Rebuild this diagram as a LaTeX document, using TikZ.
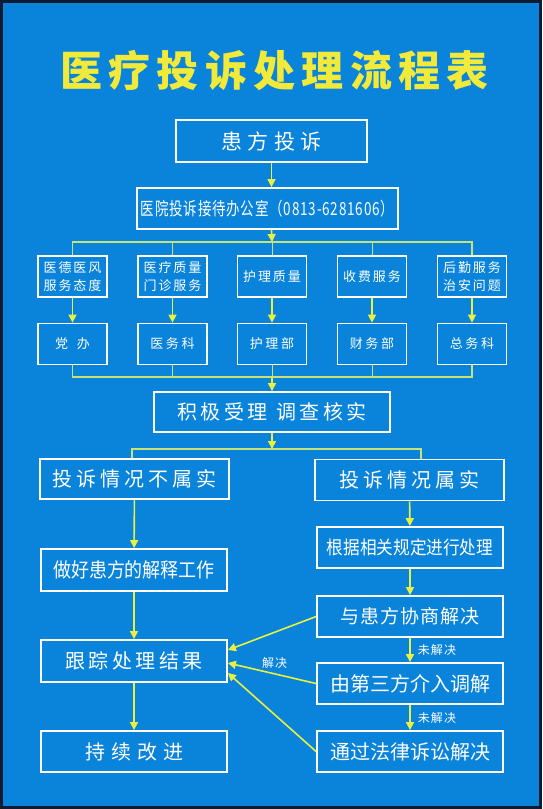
\documentclass[tikz,border=0pt]{standalone}
\usepackage{fontspec}
\setmainfont{Noto Sans CJK SC}
\newfontfamily\narrowfont{Noto Sans CJK SC}[FakeStretch=0.75]
\newfontfamily\condfont{Noto Sans CJK SC}[FakeStretch=0.9]
\usetikzlibrary{arrows.meta}
\definecolor{bgblue}{HTML}{0A83DA}
\definecolor{framedark}{HTML}{0E1B33}
\definecolor{titleyellow}{HTML}{F2EA3A}
\definecolor{arrowyellow}{HTML}{E8F040}
\definecolor{linkgreen}{HTML}{C6E37A}
\newcommand{\spaced}[2]{{\addfontfeature{LetterSpace=#1}#2}}
\tikzset{
  box/.style={draw=white, line width=1.8pt, text=white, inner sep=0pt, align=center},
  bigbox/.style={box, minimum width=186pt, minimum height=41pt, font=\fontsize{20}{24}\selectfont},
  smallbox/.style={box, minimum width=69pt, minimum height=41pt, font=\fontsize{13}{18}\selectfont},
  arr/.style={draw=arrowyellow, line width=1.6pt, -{Triangle[length=8pt,width=8pt]}},
  link/.style={draw=linkgreen, line width=1.5pt},
  stub/.style={draw=linkgreen, line width=0.8pt},
  note/.style={text=white, font=\fontsize{12}{14}\selectfont, inner sep=2pt}
}
\begin{document}
\begin{tikzpicture}[x=1pt,y=-1pt]
  \useasboundingbox (0,0) rectangle (542,809);
  \fill[bgblue] (0,0) rectangle (542,809);
  \draw[framedark, line width=3pt] (1.5,1.5) rectangle (540.5,807.5);
  \node[text=titleyellow, font=\fontsize{42}{46}\selectfont\bfseries] (title) at (274.5,71) {\spaced{15}{医疗投诉处理流程表}};
  % reception
  \node[box, minimum width=191pt, minimum height=42pt, font=\fontsize{21}{24}\selectfont] (patient) at (271.5,141) {\spaced{24}{患方投诉}};
  \node[box, minimum width=261pt, minimum height=41pt, font=\narrowfont\fontsize{18}{20}\selectfont] (office) at (267.5,208.5) {\spaced{4.5}{医院投诉接待办公室（0813-6281606）}};
  % complaint types
  \node[smallbox] (ethics) at (72.5,276.5) {\spaced{15}{医德医风}\\\spaced{15}{服务态度}};
  \node[smallbox] (quality) at (172.5,276.5) {\spaced{15}{医疗质量}\\\spaced{15}{门诊服务}};
  \node[smallbox] (nursing) at (272,276.5) {\spaced{15}{护理质量}};
  \node[smallbox] (billing) at (372,276.5) {\spaced{15}{收费服务}};
  \node[smallbox] (logistics) at (472,276.5) {\spaced{15}{后勤服务}\\\spaced{15}{治安问题}};
  % departments
  \node[smallbox] (party) at (72.5,344) {党\hspace{9pt}办};
  \node[smallbox] (medaff) at (172.5,344) {\spaced{20}{医务科}};
  \node[smallbox] (nursedept) at (272,344) {\spaced{20}{护理部}};
  \node[smallbox] (finance) at (372,344) {\spaced{20}{财务部}};
  \node[smallbox] (general) at (472,344) {\spaced{20}{总务科}};
  % investigation
  \node[box, minimum width=236pt, minimum height=40pt, font=\fontsize{20}{24}\selectfont] (verify) at (272,412) {\spaced{18}{积极受理 调查核实}};
  \node[bigbox, minimum width=189pt, minimum height=40pt] (notfact) at (134.5,479) {\spaced{20}{投诉情况不属实}};
  \node[bigbox, minimum width=189pt] (fact) at (409.5,480) {\spaced{20}{投诉情况属实}};
  \node[bigbox, minimum height=42pt, font=\condfont\fontsize{20}{24}\selectfont] (explain) at (134,570) {做好患方的解释工作};
  \node[bigbox, font=\condfont\fontsize{18.5}{22}\selectfont] (handle) at (410,547.5) {根据相关规定进行处理};
  \node[bigbox, font=\fontsize{19}{22}\selectfont] (negotiate) at (410,616.5) {\spaced{5}{与患方协商解决}};
  \node[bigbox, minimum height=42pt] (track) at (134,661) {\spaced{17}{跟踪处理结果}};
  \node[bigbox] (mediate) at (410,683.5) {由第三方介入调解};
  \node[bigbox] (improve) at (134,751.5) {\spaced{30}{持续改进}};
  \node[bigbox] (lawsuit) at (410,751.5) {通过法律诉讼解决};
  % top part connectors
  \coordinate (fork1) at (272,242);
  \coordinate (join1) at (272,377);
  \draw[arr] (patient.south) -- (patient.south |- office.north);
  \draw[arr] (patient.south |- office.south) -- (fork1);
  \draw[link] (ethics.north) |- (fork1) -| (logistics.north);
  \draw[stub] (quality.north) -- (quality.north |- fork1);
  \draw[stub] (fork1) -- (nursing.north);
  \draw[stub] (billing.north) -- (billing.north |- fork1);
  \draw[arr] (ethics) -- (party);
  \draw[arr] (quality) -- (medaff);
  \draw[arr] (nursing) -- (nursedept);
  \draw[arr] (billing) -- (finance);
  \draw[arr] (logistics) -- (general);
  \draw[link] (party.south) |- (join1) -| (general.south);
  \draw[stub] (medaff.south) -- (medaff.south |- join1);
  \draw[stub] (nursedept.south) -- (join1);
  \draw[stub] (finance.south) -- (finance.south |- join1);
  \draw[arr] (join1) -- (verify.north);
  % split
  \coordinate (fork2) at (272,449);
  \coordinate (forkL) at (132,449);
  \coordinate (forkR) at (421,449);
  \draw[arr] (verify.south) -- (fork2);
  \draw[link] (forkL |- notfact.north) |- (forkR) -- (forkR |- fact.north);
  \draw[arr] (notfact) -- (explain);
  \draw[arr] (fact) -- (handle);
  \draw[arr] (handle) -- (negotiate);
  \draw[arr] (negotiate) -- node[note, right=5pt] {\spaced{10}{未解决}} (mediate);
  \draw[arr] (mediate) -- node[note, right=5pt] {\spaced{10}{未解决}} (lawsuit);
  \draw[arr] (explain) -- (track);
  \draw[arr] (track) -- (improve);
  % back to tracking
  \draw[arr] (negotiate.west) -- ([yshift=11pt]track.east);
  \draw[arr] (mediate.west) -- node[note, pos=0.47, above=3pt] {\spaced{8}{解决}} ([yshift=-2pt]track.east);
  \draw[arr] (lawsuit.west) -- ([yshift=-12pt]track.east);
\end{tikzpicture}
\end{document}
